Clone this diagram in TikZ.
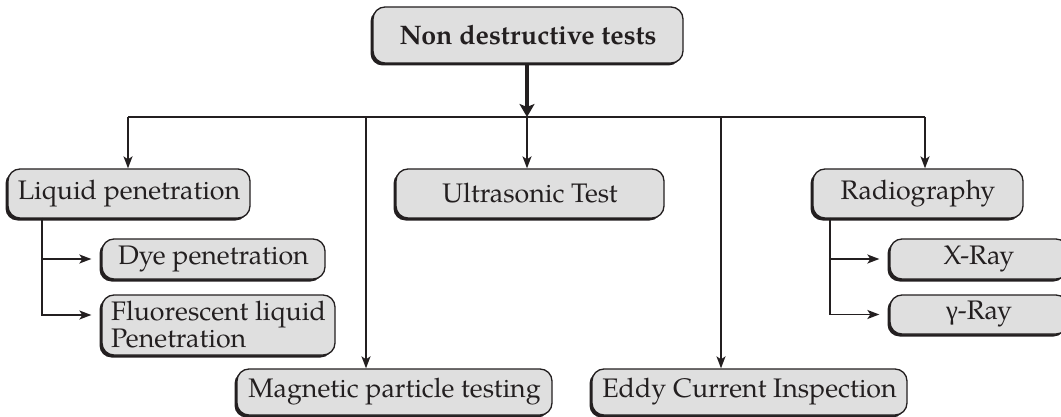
\documentclass[tikz,border=0pt]{standalone}
\usepackage{fontspec}
\setmainfont{TeX Gyre Pagella}
\newfontfamily\gk{Liberation Serif}
\usetikzlibrary{arrows.meta,shadows}
\definecolor{boxfill}{HTML}{DFDFDF}
\definecolor{ink}{HTML}{231F20}
\tikzset{
  x=1pt, y=-1pt,
  box/.style={draw=ink, line width=1.3pt, fill=boxfill, rounded corners=12pt,
    inner sep=0pt, text=ink, font=\fontsize{26.8}{28}\selectfont,
    drop shadow={shadow xshift=-2.5pt, shadow yshift=-2.5pt, fill=ink, opacity=1}},
  conn/.style={draw=ink, line width=1.7pt},
  arr/.style={conn, -{Stealth[length=12pt,width=9pt,inset=3pt]}},
  bigarr/.style={draw=ink, line width=4.5pt, -{Stealth[length=13pt,width=15pt,inset=3pt]}}
}
\begin{document}
\begin{tikzpicture}
\useasboundingbox (0,0) rectangle (1061,417);
% nodes
\node[box, minimum width=310pt, minimum height=56pt, font=\fontsize{26.8}{28}\selectfont\bfseries] (top) at (528,35) {Non destructive tests};
\node[box, minimum width=242pt, minimum height=49pt] (liq) at (129,193.5) {Liquid penetration};
\node[box, minimum width=268pt, minimum height=49pt] (ult) at (530,193.5) {Ultrasonic Test};
\node[box, minimum width=210pt, minimum height=49pt] (rad) at (918,193.5) {Radiography};
\node[box, minimum width=223pt, minimum height=40pt] (dye) at (213.5,259) {Dye penetration};
\node[box, minimum width=233pt, minimum height=60pt, align=left, font=\fontsize{26.8}{27}\selectfont] (flu) at (218.5,325) {Fluorescent liquid\\Penetration};
\node[box, minimum width=178pt, minimum height=40pt] (xr) at (979,259) {X-Ray};
\node[box, minimum width=178pt, minimum height=39pt] (gr) at (979,314.5) {{\gk γ}-Ray};
\node[box, minimum width=315pt, minimum height=46pt] (mag) at (394.5,392) {Magnetic particle testing};
\node[box, minimum width=315pt, minimum height=46pt] (edd) at (749.5,392) {Eddy Current Inspection};
% bus
\coordinate (bus) at (527,117);
\coordinate (jL) at (128,117);
\coordinate (jM) at (366,117);
\coordinate (jE) at (721,117);
\coordinate (jR) at (925,117);
\draw[bigarr] (top.south -| bus) -- (bus);
\draw[conn] (jL) -- (jR);
\draw[arr] (jL) -- (jL |- liq.north);
\draw[arr] (jM) -- (jM |- mag.north);
\draw[arr] (bus) -- (bus |- ult.north);
\draw[arr] (jE) -- (jE |- edd.north);
\draw[arr] (jR) -- (jR |- rad.north);
% sub-branches
\coordinate (lb) at (42,218);
\coordinate (rb) at (830,218);
\draw[arr, shorten >=10pt] (lb) |- (dye.west);
\draw[arr, shorten >=10pt] (lb) |- ([yshift=10pt]flu.west);
\draw[arr, shorten >=10pt] (rb) |- (xr.west);
\draw[arr, shorten >=10pt] (rb) |- (gr.west);
\end{tikzpicture}
\end{document}
